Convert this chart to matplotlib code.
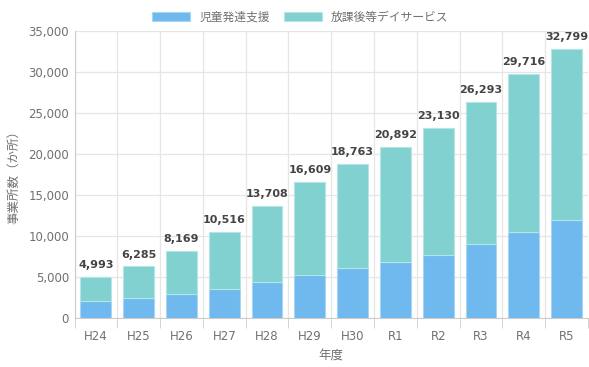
import matplotlib
matplotlib.use("Agg")
import matplotlib.pyplot as plt
import numpy as np

plt.rcParams['font.family'] = ['DejaVu Sans', 'Noto Sans CJK JP']

years = ["H24", "H25", "H26", "H27", "H28", "H29", "H30", "R1", "R2", "R3", "R4", "R5"]
totals = [4993, 6285, 8169, 10516, 13708, 16609, 18763, 20892, 23130, 26293, 29716, 32799]
# 児童発達支援
jido = [2100, 2480, 2960, 3540, 4390, 5280, 6130, 6870, 7680, 8980, 10440, 11900]
# 放課後等デイサービス = total - 児童発達支援
houkago = [t - j for t, j in zip(totals, jido)]

BLUE = "#6fb9ee"
TEAL = "#80d1d0"
GRID = "#e6e6e6"
TXT = "#707070"

fig = plt.figure(figsize=(5.89, 3.67), dpi=100)
ax = fig.add_axes([74.5 / 589, 1 - 318 / 367, (588 - 74.5) / 589, (318 - 31) / 367])

x = np.arange(len(years))
ax.bar(x, jido, width=0.72, color=BLUE, edgecolor="#a8d5f5", linewidth=0.8,
       label="児童発達支援", zorder=3)
ax.bar(x, houkago, width=0.72, bottom=jido, color=TEAL, edgecolor="#b5e5e4",
       linewidth=0.8, label="放課後等デイサービス", zorder=3)

for xi, t in zip(x, totals):
    ax.annotate(f"{t:,}", (xi, t), xytext=(0, 5), textcoords="offset points",
                ha="center", va="bottom", fontsize=8, fontweight="bold",
                color="#444444", zorder=4)

ax.set_xlim(-0.5, len(years) - 0.5)
ax.set_ylim(0, 35000)
ax.set_yticks(np.arange(0, 35001, 5000))
ax.set_yticklabels([f"{v:,}" for v in range(0, 35001, 5000)])
ax.set_xticks(x)
ax.set_xticklabels(years)
ax.set_xticks(np.arange(-0.5, len(years), 1), minor=True)

ax.grid(axis="y", color=GRID, linewidth=0.9, zorder=0)
ax.grid(axis="x", which="minor", color=GRID, linewidth=0.9, zorder=0)
ax.tick_params(axis="x", which="major", length=0, colors=TXT, labelsize=8.5, pad=9)
ax.tick_params(axis="x", which="minor", length=7, color="#cccccc")
ax.tick_params(axis="y", length=0, colors=TXT, labelsize=8.5, pad=4)
for side in ["top", "right"]:
    ax.spines[side].set_visible(False)
ax.spines["left"].set_color("#cccccc")
ax.spines["bottom"].set_color("#cccccc")

ax.set_xlabel("年度", fontsize=9, color=TXT, labelpad=4)
ax.set_ylabel("事業所数（か所）", fontsize=9, color=TXT, labelpad=6)

fig.legend(loc="upper center", bbox_to_anchor=(0.51, 1.0), ncol=2, frameon=False,
           fontsize=8.5, handlelength=3.2, handleheight=0.9, columnspacing=1.2,
           labelcolor=TXT)

fig.savefig("out.png", dpi=100)
